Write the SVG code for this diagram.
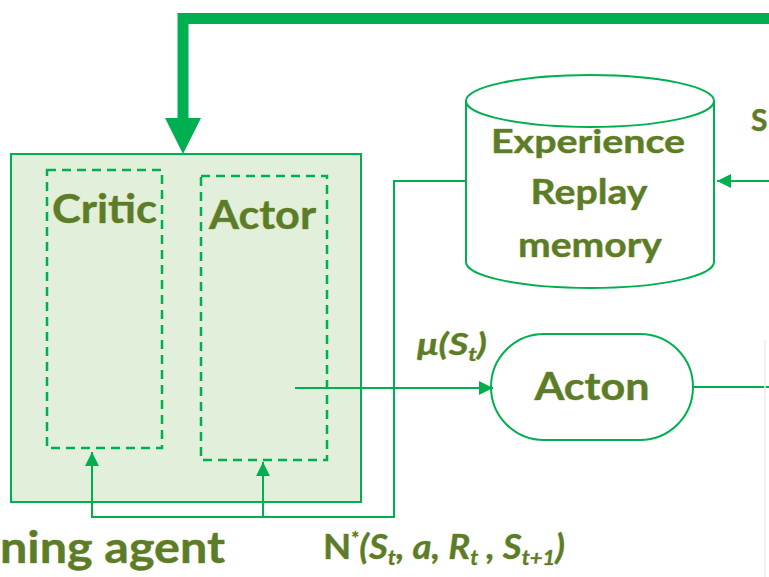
<svg xmlns="http://www.w3.org/2000/svg" width="769" height="577" viewBox="0 0 769 577">
<defs>
<style>
.thin{fill:none;stroke:#00b050;stroke-width:2}
.dash{fill:none;stroke:#00b050;stroke-width:2.5;stroke-dasharray:9 6}
.lbl{font-family:Lato,"Open Sans","Liberation Sans",sans-serif;font-weight:bold;fill:#5b7d2b;stroke:#a4a83a;stroke-width:0.6;paint-order:stroke}
.math{font-family:Lato,"Open Sans","Liberation Sans",sans-serif;font-weight:bold;font-style:italic;fill:#5b7d2b;stroke:#a4a83a;stroke-width:0.5;paint-order:stroke}
</style>
<marker id="ah" viewBox="0 0 10 10" refX="10" refY="5" markerWidth="15" markerHeight="14" markerUnits="userSpaceOnUse" orient="auto"><path d="M0,0 L10,5 L0,10 z" fill="#00b050"/></marker>
</defs>
<rect width="769" height="577" fill="#ffffff"/>

<g id="agent">
<rect x="11" y="154" width="350" height="348" fill="#e2efda" stroke="#00b050" stroke-width="2"/>
<text class="lbl" x="0" y="563" font-size="44" textLength="225" lengthAdjust="spacingAndGlyphs">ning agent</text>
</g>
<g id="critic">
<rect class="dash" x="47" y="170" width="115" height="278"/>
<text class="lbl" x="52" y="223" font-size="40" textLength="105" lengthAdjust="spacingAndGlyphs">Critic</text>
</g>
<g id="actor">
<rect class="dash" x="201" y="176" width="126" height="284"/>
<text class="lbl" x="209" y="229" font-size="41" textLength="107" lengthAdjust="spacingAndGlyphs">Actor</text>
</g>
<g id="memory">
<path d="M466,101 L466,262 A124,26 0 0 0 714,262 L714,101" fill="#ffffff" stroke="#00b050" stroke-width="2"/>
<ellipse cx="590" cy="101" rx="124" ry="26" fill="#ffffff" stroke="#00b050" stroke-width="2"/>
<text class="lbl" x="588" y="153" font-size="32" text-anchor="middle" textLength="194" lengthAdjust="spacingAndGlyphs">Experience</text>
<text class="lbl" x="589" y="204" font-size="35" text-anchor="middle" textLength="117" lengthAdjust="spacingAndGlyphs">Replay</text>
<text class="lbl" x="590" y="257" font-size="35" text-anchor="middle" textLength="144" lengthAdjust="spacingAndGlyphs">memory</text>
</g>
<g id="acton">
<rect x="491" y="334" width="202" height="106" rx="53" ry="53" fill="#ffffff" stroke="#00b050" stroke-width="2"/>
<text class="lbl" x="592" y="400" font-size="39" text-anchor="middle" textLength="115" lengthAdjust="spacingAndGlyphs">Acton</text>
</g>
<g id="state-label">
<text class="lbl" x="751" y="131" font-size="30">S</text>
</g>

<g id="connectors">
<path d="M769,18.5 L183,18.5 L183,120" fill="none" stroke="#00b050" stroke-width="11"/>
<path d="M165,118 L201,118 L183,154 z" fill="#00b050"/>
<path class="thin" d="M466,181 L394,181 L394,517 L92,517 L92,452" marker-end="url(#ah)"/>
<path class="thin" d="M263,517 L263,462" marker-end="url(#ah)"/>
<path class="thin" d="M295,388 L493,388" marker-end="url(#ah)"/>
<path class="thin" d="M769,181 L717,181" marker-end="url(#ah)"/>
<path class="thin" d="M693,387 L769,387"/>
<path d="M765,340 L765,577" stroke="#e8ecea" stroke-width="1.5" fill="none"/>
<text class="math" x="417" y="355" font-size="31" textLength="70" lengthAdjust="spacingAndGlyphs">μ(S<tspan font-size="19" dy="6">t</tspan><tspan dy="-6">)</tspan></text>
<text class="math" x="323" y="559" font-size="35" textLength="242" lengthAdjust="spacingAndGlyphs"><tspan font-style="normal">N</tspan><tspan font-size="18" dy="-14" font-style="normal">*</tspan><tspan dy="14">(S</tspan><tspan font-size="21" dy="6">t</tspan><tspan dy="-6">, a, R</tspan><tspan font-size="21" dy="6">t</tspan><tspan dy="-6"> , S</tspan><tspan font-size="21" dy="6">t+1</tspan><tspan dy="-6">)</tspan></text>
</g>
</svg>
